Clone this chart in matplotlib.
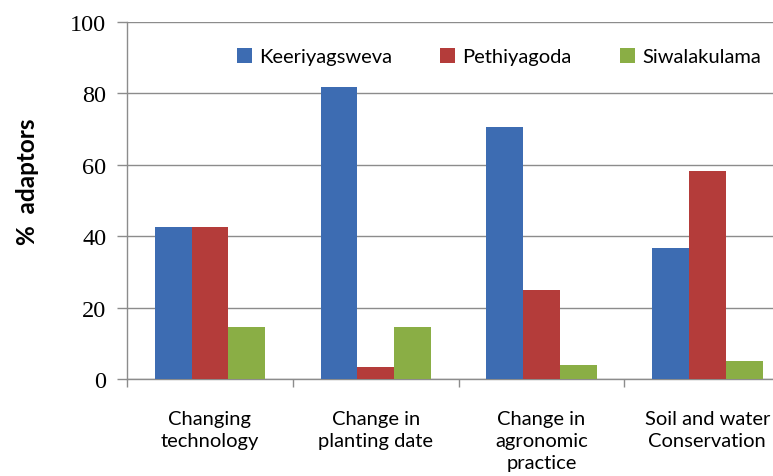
import numpy as np
import matplotlib
matplotlib.use('Agg')
import matplotlib.pyplot as plt
from matplotlib.patches import Patch

# Data
categories = ['Changing\ntechnology', 'Change in\nplanting date',
              'Change in\nagronomic\npractice', 'Soil and water\nConservation']
series_names = ['Keeriyagsweva', 'Pethiyagoda', 'Siwalakulama']
keeriyagsweva = [42.6, 81.8, 70.6, 36.7]
pethiyagoda = [42.6, 3.4, 24.9, 58.3]
siwalakulama = [14.6, 14.6, 3.9, 5.0]
y_ticks = [0, 20, 40, 60, 80, 100]

colors = ['#3D6CB2', '#B43C3A', '#8AAE45']
grid_color = '#8C8C8C'

fig = plt.figure(figsize=(7.73, 4.77), dpi=100)
ax = fig.add_axes([0.1643, 0.2034, 0.858, 0.7484])

x = np.arange(len(categories))
width = 0.222
for i, (vals, name) in enumerate(zip([keeriyagsweva, pethiyagoda, siwalakulama], series_names)):
    ax.bar(x + (i - 1) * width, vals, width, color=colors[i], label=name, zorder=3)

ax.set_xlim(-0.5, 3.5)
ax.set_ylim(0, 100)
ax.set_yticks(y_ticks)
ax.set_yticklabels([str(t) for t in y_ticks], fontfamily='Liberation Serif', fontsize=17.5)
ax.yaxis.grid(True, color=grid_color, linewidth=1.0, zorder=0)
ax.tick_params(axis='y', length=7, color=grid_color, width=1.0, pad=8)

# category ticks at the boundaries, labels at centers
ax.set_xticks(np.arange(-0.5, 4.0, 1.0))
ax.set_xticklabels([])
ax.set_xticks(x, minor=True)
ax.set_xticklabels(categories, minor=True, fontfamily='Lato', fontsize=14.5, linespacing=1.38)
ax.tick_params(axis='x', which='major', length=6, color=grid_color, width=1.0)
ax.tick_params(axis='x', which='minor', length=0, pad=22)
for lbl in ax.get_xticklabels(minor=True):
    lbl.set_verticalalignment('top')

for side in ['top', 'right']:
    ax.spines[side].set_visible(False)
for side in ['left', 'bottom']:
    ax.spines[side].set_color(grid_color)
    ax.spines[side].set_linewidth(1.0)

ax.set_ylabel('%  adaptors', fontfamily='Lato', fontweight='bold', fontsize=17.5)
ax.yaxis.set_label_coords(-0.133, 0.555)

handles = [Patch(facecolor=c, label=n) for c, n in zip(colors, series_names)]
fig.legend(handles=handles, ncol=3, loc='center', bbox_to_anchor=(0.645, 0.879),
           frameon=False, prop={'family': 'Lato', 'size': 14.5},
           handlelength=0.75, handleheight=0.75, handletextpad=0.35, columnspacing=2.4)

fig.savefig('out.png', dpi=100)
